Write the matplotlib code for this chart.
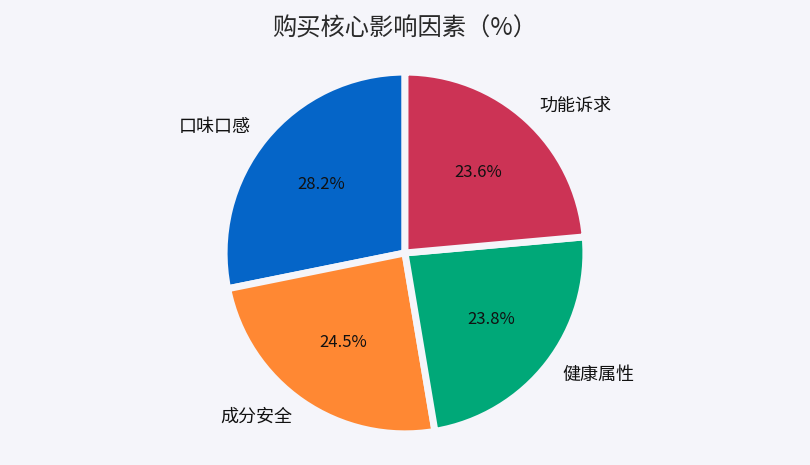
import matplotlib
matplotlib.use("Agg")
import matplotlib.pyplot as plt

plt.rcParams['font.family'] = ['Noto Sans CJK SC', 'DejaVu Sans']

# data, counter-clockwise from 12 o'clock
categories = ["口味口感", "成分安全", "健康属性", "功能诉求"]
shares = [28.2, 24.5, 23.8, 23.6]
colors = ["#0565c8", "#ff8833", "#00a878", "#cc3355"]
title = "购买核心影响因素（%）"

bg = "#f5f5fa"

fig = plt.figure(figsize=(8.1, 4.65), dpi=100, facecolor=bg)
fig.text(0.5, 0.938, title, ha="center", va="center", fontsize=17.5,
         color="#2a2a2a", fontweight="medium")

ax = fig.add_axes([0.2765, 0.067, 0.447, 0.778])
ax.set_facecolor(bg)
wedges, texts, autotexts = ax.pie(
    shares, labels=categories, colors=colors, startangle=90, counterclock=True,
    autopct="%.1f%%", pctdistance=0.6, labeldistance=1.1,
    wedgeprops=dict(edgecolor=bg, linewidth=5.0),
    textprops=dict(fontsize=13, color="#111111", fontweight="medium"))
for t in autotexts:
    t.set_fontsize(12)
    t.set_fontweight("normal")
    t.set_color("#111111")
ax.set_xlim(-1, 1)
ax.set_ylim(-1, 1)

fig.savefig("out.png", dpi=100, facecolor=bg)
